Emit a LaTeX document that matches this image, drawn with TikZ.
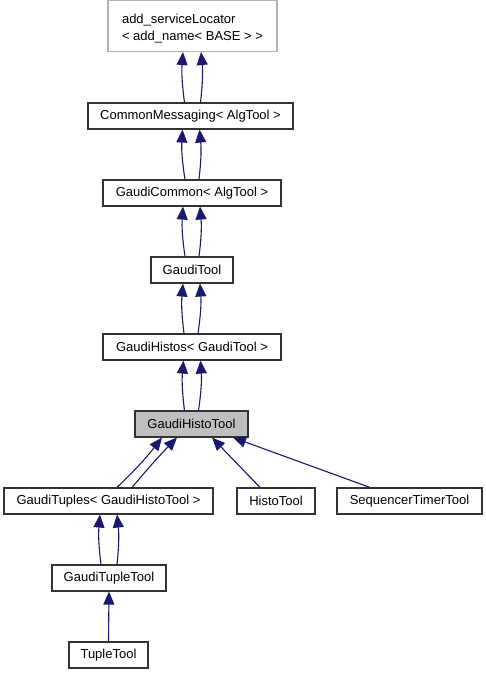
\documentclass[tikz,border=0pt]{standalone}
\usepackage{fontspec}
\setmainfont{Liberation Sans}
\usetikzlibrary{arrows.meta}
\definecolor{edgec}{HTML}{191970}
\definecolor{hlc}{HTML}{BFBFBF}
\begin{document}
\begin{tikzpicture}[x=1pt,y=-1pt,
  cls/.style={draw=black!80, line width=1.1pt, inner sep=0pt, minimum height=26pt,
    font=\fontsize{13}{17}\selectfont, text=black},
  inh/.style={draw=edgec, line width=1.1pt, -{Triangle[width=11pt,length=13pt]}}]
\useasboundingbox (0,0) rectangle (485,677);
\fill[white] (0,0) rectangle (485,677);
% nodes
\node[cls, draw=black!30, minimum width=169pt, minimum height=51pt] (asl) at (192.5,26) {};
\node[cls, draw=none, align=left, yshift=-2.5pt] (asltext) at (asl.center) {add\_serviceLocator\\< add\_name< BASE > >};
\node[cls, minimum width=205pt] (cm) at (190.5,116) {CommonMessaging< AlgTool >};
\node[cls, minimum width=178pt] (gc) at (192,193) {GaudiCommon< AlgTool >};
\node[cls, minimum width=82pt] (gt) at (192,270) {GaudiTool};
\node[cls, minimum width=178pt] (gh) at (192,347) {GaudiHistos< GaudiTool >};
\node[cls, fill=hlc, minimum width=113pt] (ght) at (191.5,424) {GaudiHistoTool};
\node[cls, minimum width=209pt] (tup) at (108.5,501) {GaudiTuples< GaudiHistoTool >};
\node[cls, minimum width=78pt] (hist) at (276,501) {HistoTool};
\node[cls, minimum width=145pt] (seq) at (409.5,501) {SequencerTimerTool};
\node[cls, minimum width=114pt] (gtt) at (109,578) {GaudiTupleTool};
\node[cls, minimum width=79pt] (tt) at (108.5,655) {TupleTool};
% edges
\draw[inh] ([xshift=-6]cm.north) to[bend left=6] ([xshift=-9.5]asl.south);
\draw[inh] ([xshift=10]cm.north) to[bend right=6] ([xshift=8.5]asl.south);
\draw[inh] ([xshift=-7]gc.north) to[bend left=6] ([xshift=-8]cm.south);
\draw[inh] ([xshift=7]gc.north) to[bend right=6] ([xshift=9]cm.south);
\draw[inh] ([xshift=-7]gt.north) to[bend left=6] ([xshift=-9]gc.south);
\draw[inh] ([xshift=7]gt.north) to[bend right=6] ([xshift=8]gc.south);
\draw[inh] ([xshift=-8]gh.north) to[bend left=6] ([xshift=-9]gt.south);
\draw[inh] ([xshift=6]gh.north) to[bend right=6] ([xshift=8]gt.south);
\draw[inh] ([xshift=-7]ght.north) to[bend left=6] ([xshift=-8.5]gh.south);
\draw[inh] ([xshift=7]ght.north) to[bend right=6] ([xshift=8.5]gh.south);
\draw[inh] ([xshift=8.5]tup.north) to[bend right=4] ([xshift=-29.5]ght.south);
\draw[inh] ([xshift=23.5]tup.north) to[bend left=2] ([xshift=-14.5]ght.south);
\draw[inh] ([xshift=-16]hist.north) -- ([xshift=20.5]ght.south);
\draw[inh] ([xshift=-39.5]seq.north) -- ([xshift=41.5]ght.south);
\draw[inh] ([xshift=-8]gtt.north) to[bend left=6] ([xshift=-8.5]tup.south);
\draw[inh] ([xshift=8]gtt.north) to[bend right=6] ([xshift=8.5]tup.south);
\draw[inh] (tt.north) -- (gtt.south);
\end{tikzpicture}
\end{document}
